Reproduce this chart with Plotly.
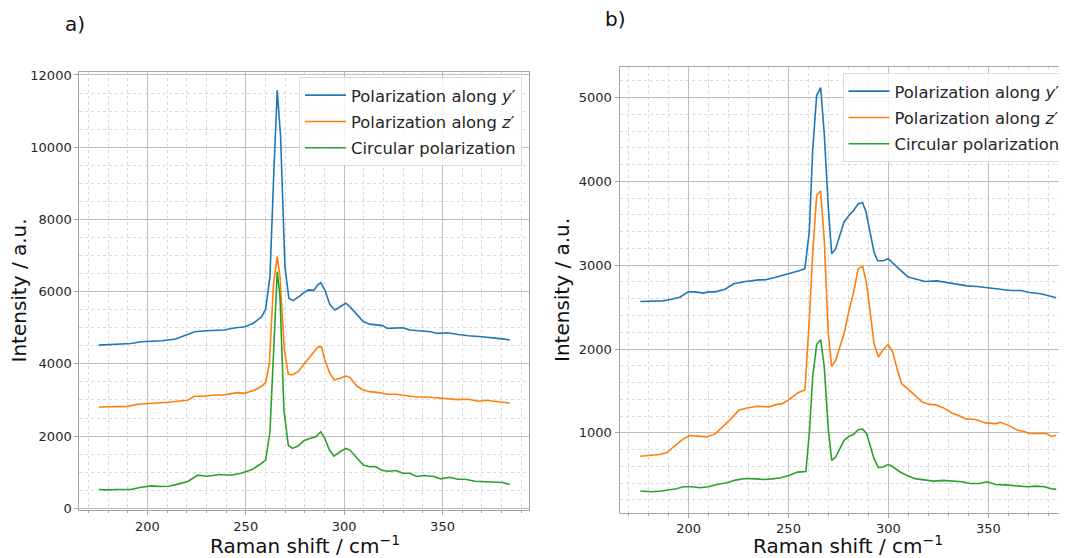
import plotly.graph_objects as go

# ---------------- data: panel a) ----------------
a_y_x = [175.3, 179.5, 184.6, 191.6, 196.8, 200.0, 207.4, 214.4, 219.6, 224.0, 230.1, 238.9, 244.1, 249.6,
         253.8, 258.1, 260.1, 262.3, 264.2, 266.0, 267.7, 269.9, 271.9, 274.1, 277.5, 279.1, 281.8, 284.7,
         286.5, 288.1, 290.2, 292.8, 295.3, 297.9, 300.8, 302.9, 306.4, 309.7, 313.0, 316.7, 319.4, 322.0,
         325.0, 329.9, 333.4, 338.6, 343.9, 347.4, 352.6, 357.9, 363.1, 370.1, 377.1, 381.5, 384.1]
a_y_v = [4519, 4530, 4537, 4565, 4611, 4620, 4639, 4686, 4797, 4889, 4917, 4936, 4991, 5030,
         5125, 5308, 5513, 6416, 9200, 11573, 10298, 6694, 5818, 5751, 5881, 5954, 6048, 6040,
         6180, 6250, 6048, 5632, 5493, 5585, 5679, 5585, 5355, 5170, 5100, 5070, 5060, 4982,
         4990, 5000, 4936, 4920, 4889, 4843, 4860, 4815, 4778, 4750, 4722, 4686, 4658]

a_z_x = [175.3, 184.6, 189.9, 195.1, 200.4, 205.6, 210.9, 216.1, 220.5, 224.0, 228.4, 233.6, 238.9, 242.4,
         245.9, 249.4, 254.7, 258.1, 260.1, 262.0, 264.1, 266.0, 267.4, 269.6, 271.6, 273.6, 276.6, 280.0,
         284.2, 286.8, 288.5, 290.2, 292.8, 295.0, 297.9, 300.9, 302.9, 306.4, 309.7, 313.1, 317.6, 322.0,
         326.4, 331.6, 336.9, 342.1, 347.4, 352.6, 357.9, 363.1, 368.4, 371.9, 377.1, 384.1]
a_z_v = [2806, 2806, 2824, 2880, 2898, 2917, 2935, 2972, 2991, 3102, 3102, 3139, 3139, 3176,
         3204, 3183, 3275, 3386, 3478, 4016, 6200, 6971, 6416, 4384, 3719, 3691, 3783, 4016,
         4293, 4476, 4460, 4107, 3738, 3553, 3600, 3664, 3627, 3386, 3275, 3230, 3204, 3158,
         3158, 3130, 3084, 3084, 3065, 3037, 3010, 3019, 2963, 2991, 2963, 2917]

a_c_x = [175.3, 179.3, 184.6, 191.6, 196.8, 202.1, 206.5, 210.9, 216.1, 220.5, 225.7, 230.1, 237.1, 242.4,
         247.6, 252.9, 257.2, 260.1, 262.3, 264.1, 266.0, 267.4, 269.4, 271.6, 273.6, 276.6, 279.5, 282.5,
         285.6, 288.1, 290.2, 292.5, 294.8, 297.9, 300.9, 302.9, 306.4, 309.7, 313.1, 315.9, 319.4, 322.9,
         326.4, 329.9, 333.4, 336.9, 340.4, 345.6, 349.1, 353.5, 357.9, 361.4, 366.6, 370.1, 375.4, 380.6, 384.1]
a_c_v = [519, 509, 519, 519, 583, 620, 602, 611, 676, 741, 917, 889, 935, 917,
         972, 1065, 1213, 1335, 2120, 4500, 6555, 5862, 2720, 1750, 1659, 1724, 1870, 1936,
         1981, 2120, 1936, 1612, 1446, 1566, 1659, 1612, 1382, 1196, 1150, 1157, 1046, 1028,
         1046, 972, 972, 880, 907, 880, 815, 861, 806, 806, 750, 741, 741, 713, 657]

# ---------------- data: panel b) ----------------
b_y_x = [175.8, 181.3, 187.2, 191.4, 195.6, 199.8, 203.2, 207.4, 209.9, 213.3, 218.3, 222.5, 228.4, 235.1,
         238.5, 243.6, 250.3, 255.3, 258.2, 260.4, 262.1, 264.1, 266.1, 267.9, 269.9, 271.6, 273.6, 275.8,
         277.8, 280.3, 282.4, 284.9, 287.1, 288.8, 290.8, 292.8, 294.6, 297.4, 299.9, 302.4, 306.1, 309.9,
         314.1, 318.3, 324.3, 329.3, 334.4, 339.4, 344.4, 351.2, 356.2, 361.3, 366.3, 370.5, 376.4, 380.6, 384.0]
b_y_v = [2567, 2567, 2575, 2595, 2619, 2682, 2682, 2667, 2682, 2682, 2714, 2778, 2806, 2825,
         2826, 2857, 2897, 2933, 2959, 3400, 4371, 5027, 5118, 4569, 3695, 3137, 3197, 3376,
         3516, 3596, 3647, 3734, 3746, 3635, 3376, 3158, 3054, 3054, 3078, 3018, 2939, 2860,
         2832, 2806, 2813, 2794, 2778, 2754, 2746, 2730, 2714, 2698, 2698, 2674, 2659, 2635, 2611]

b_z_x = [175.8, 181.3, 185.5, 188.9, 193.1, 197.3, 200.7, 204.9, 209.1, 213.3, 217.5, 221.7, 225.1, 229.3,
         234.3, 240.2, 243.6, 246.9, 250.3, 254.5, 258.2, 260.4, 262.1, 264.1, 266.1, 267.9, 269.9, 271.6,
         273.6, 275.8, 277.8, 280.3, 282.4, 284.9, 287.1, 289.1, 291.2, 292.8, 295.0, 297.4, 299.9, 302.1,
         304.1, 306.6, 309.4, 313.3, 317.1, 320.8, 323.4, 327.6, 331.8, 336.0, 338.6, 343.6, 348.6, 353.6,
         356.2, 360.4, 364.6, 368.0, 370.5, 374.7, 378.9, 381.5, 384.0]
b_z_v = [722, 734, 742, 762, 841, 929, 968, 960, 952, 988, 1079, 1179, 1270, 1298,
         1317, 1310, 1337, 1349, 1397, 1476, 1515, 2343, 3137, 3834, 3885, 3297, 2183, 1794,
         1866, 2024, 2183, 2462, 2660, 2959, 2987, 2780, 2343, 2064, 1905, 1993, 2057, 1965,
         1786, 1587, 1530, 1450, 1365, 1338, 1337, 1298, 1238, 1198, 1167, 1159, 1119, 1111,
         1127, 1087, 1032, 1016, 992, 992, 992, 960, 968]

b_c_x = [175.8, 181.3, 186.4, 190.6, 193.9, 197.3, 201.5, 205.7, 209.9, 214.1, 219.2, 223.4, 228.4, 233.5,
         237.7, 241.9, 246.1, 250.3, 254.5, 258.7, 260.4, 262.1, 264.1, 266.1, 267.9, 269.9, 271.6, 273.6,
         275.8, 277.8, 280.3, 282.6, 284.9, 287.1, 289.1, 291.2, 292.8, 295.0, 297.4, 299.9, 302.4, 305.8,
         309.1, 313.3, 317.5, 322.6, 327.6, 332.7, 336.9, 341.1, 345.3, 349.5, 353.7, 359.6, 364.6, 369.7,
         373.9, 378.1, 381.5, 384.0]
b_c_v = [306, 298, 306, 318, 333, 357, 357, 345, 357, 385, 405, 437, 456, 452,
         444, 452, 464, 492, 532, 540, 990, 1667, 2057, 2112, 1786, 1050, 673, 712,
         811, 912, 959, 983, 1038, 1046, 990, 832, 692, 585, 593, 625, 593, 534,
         494, 454, 444, 425, 433, 425, 417, 397, 397, 417, 385, 377, 365, 357,
         365, 357, 333, 326]

names = ["Polarization along <i>y</i>′", "Polarization along <i>z</i>′", "Circular polarization"]
colors = ["#1f77b4", "#ff7f0e", "#2ca02c"]
x_tick_vals = [200, 250, 300, 350]

# page body has an 8 px margin; the figure is sized to fill the rest of the window
OFF = 8
W, H = 1067 - OFF, 558 - OFF


def fx(rx):
    return (rx - OFF) / W


def fy(ry):
    return 1 - (ry - OFF) / H


FONT = "DejaVu Sans"
GRID = "#bdbdbd"
MINOR = "#dadada"
FRAME = "#a6a6a6"
TXT = "#262626"

fig = go.Figure()
panel_a = [(a_y_x, a_y_v), (a_z_x, a_z_v), (a_c_x, a_c_v)]
panel_b = [(b_y_x, b_y_v), (b_z_x, b_z_v), (b_c_x, b_c_v)]
for i, (xs, ys) in enumerate(panel_a):
    fig.add_trace(go.Scatter(x=xs, y=ys, mode="lines", name=names[i],
                             line=dict(color=colors[i], width=1.6),
                             legendgroup="a%d" % i,
                             xaxis="x", yaxis="y", legend="legend"))
for i, (xs, ys) in enumerate(panel_b):
    fig.add_trace(go.Scatter(x=xs, y=ys, mode="lines", name=names[i],
                             line=dict(color=colors[i], width=1.6),
                             legendgroup="b%d" % i,
                             xaxis="x2", yaxis="y2", legend="legend2"))


def xaxis(domain, rng, anchor, mirror):
    return dict(domain=domain, range=rng, anchor=anchor, tickvals=x_tick_vals,
                showgrid=True, gridcolor=GRID, gridwidth=1, zeroline=False,
                showline=True, linecolor=FRAME, linewidth=1, mirror=mirror,
                ticks="outside", ticklen=4, tickcolor=FRAME, automargin=False,
                tickfont=dict(family=FONT, size=13, color=TXT),
                minor=dict(dtick=10, tick0=0, showgrid=True, gridcolor=MINOR,
                           griddash="dot", ticks="outside", ticklen=2, tickcolor=FRAME))


def yaxis(domain, rng, anchor, dtick, mdtick, mirror):
    return dict(domain=domain, range=rng, anchor=anchor, dtick=dtick, tick0=0,
                tickformat="d", automargin=False,
                showgrid=True, gridcolor=GRID, gridwidth=1, zeroline=False,
                showline=True, linecolor=FRAME, linewidth=1, mirror=mirror,
                ticks="outside", ticklen=4, tickcolor=FRAME,
                tickfont=dict(family=FONT, size=13, color=TXT),
                minor=dict(dtick=mdtick, tick0=0, showgrid=True, gridcolor=MINOR,
                           griddash="dot", ticks="", ticklen=2, tickcolor=FRAME))


def legend(rx, ry):
    return dict(x=fx(rx), y=fy(ry), xanchor="left", yanchor="top",
                bgcolor="rgba(255,255,255,0.8)", bordercolor="#dcdcdc", borderwidth=1,
                font=dict(family=FONT, size=16.4, color=TXT), itemwidth=41,
                tracegroupgap=2)


ann = []


def text(t, rx, ry, size=20, angle=0):
    ann.append(dict(text=t, x=fx(rx), y=fy(ry), xref="paper", yref="paper",
                    xanchor="center", yanchor="middle", showarrow=False, textangle=angle,
                    font=dict(family=FONT, size=size, color="#111111")))


text("a)", 75, 24)
text("b)", 615.5, 19)
text("Raman shift / cm<sup>−1</sup>", 304.5, 545)
text("Raman shift / cm<sup>−1</sup>", 848, 545)
text("Intensity / a.u.", 18.5, 291, angle=-90)
text("Intensity / a.u.", 562, 290, angle=-90)

fig.update_layout(
    width=W, height=H, margin=dict(l=0, r=0, t=0, b=0, autoexpand=False),
    paper_bgcolor="white", plot_bgcolor="white",
    font=dict(family=FONT, color=TXT),
    xaxis=xaxis([fx(79.3), fx(529.3)], [165.4, 394.1], "y", True),
    yaxis=yaxis([fy(510), fy(71.7)], [-47, 12091], "x", 2000, 500, True),
    xaxis2=xaxis([fx(619.5), 1.0], [165.4, 389.4], "y2", True),
    yaxis2=yaxis([fy(512.7), fy(67.3)], [48, 5361], "x2", 1000, 200, False),
    legend=legend(299, 77),
    legend2=legend(842.5, 73),
    annotations=ann,
)

fig.write_html("out.html")
